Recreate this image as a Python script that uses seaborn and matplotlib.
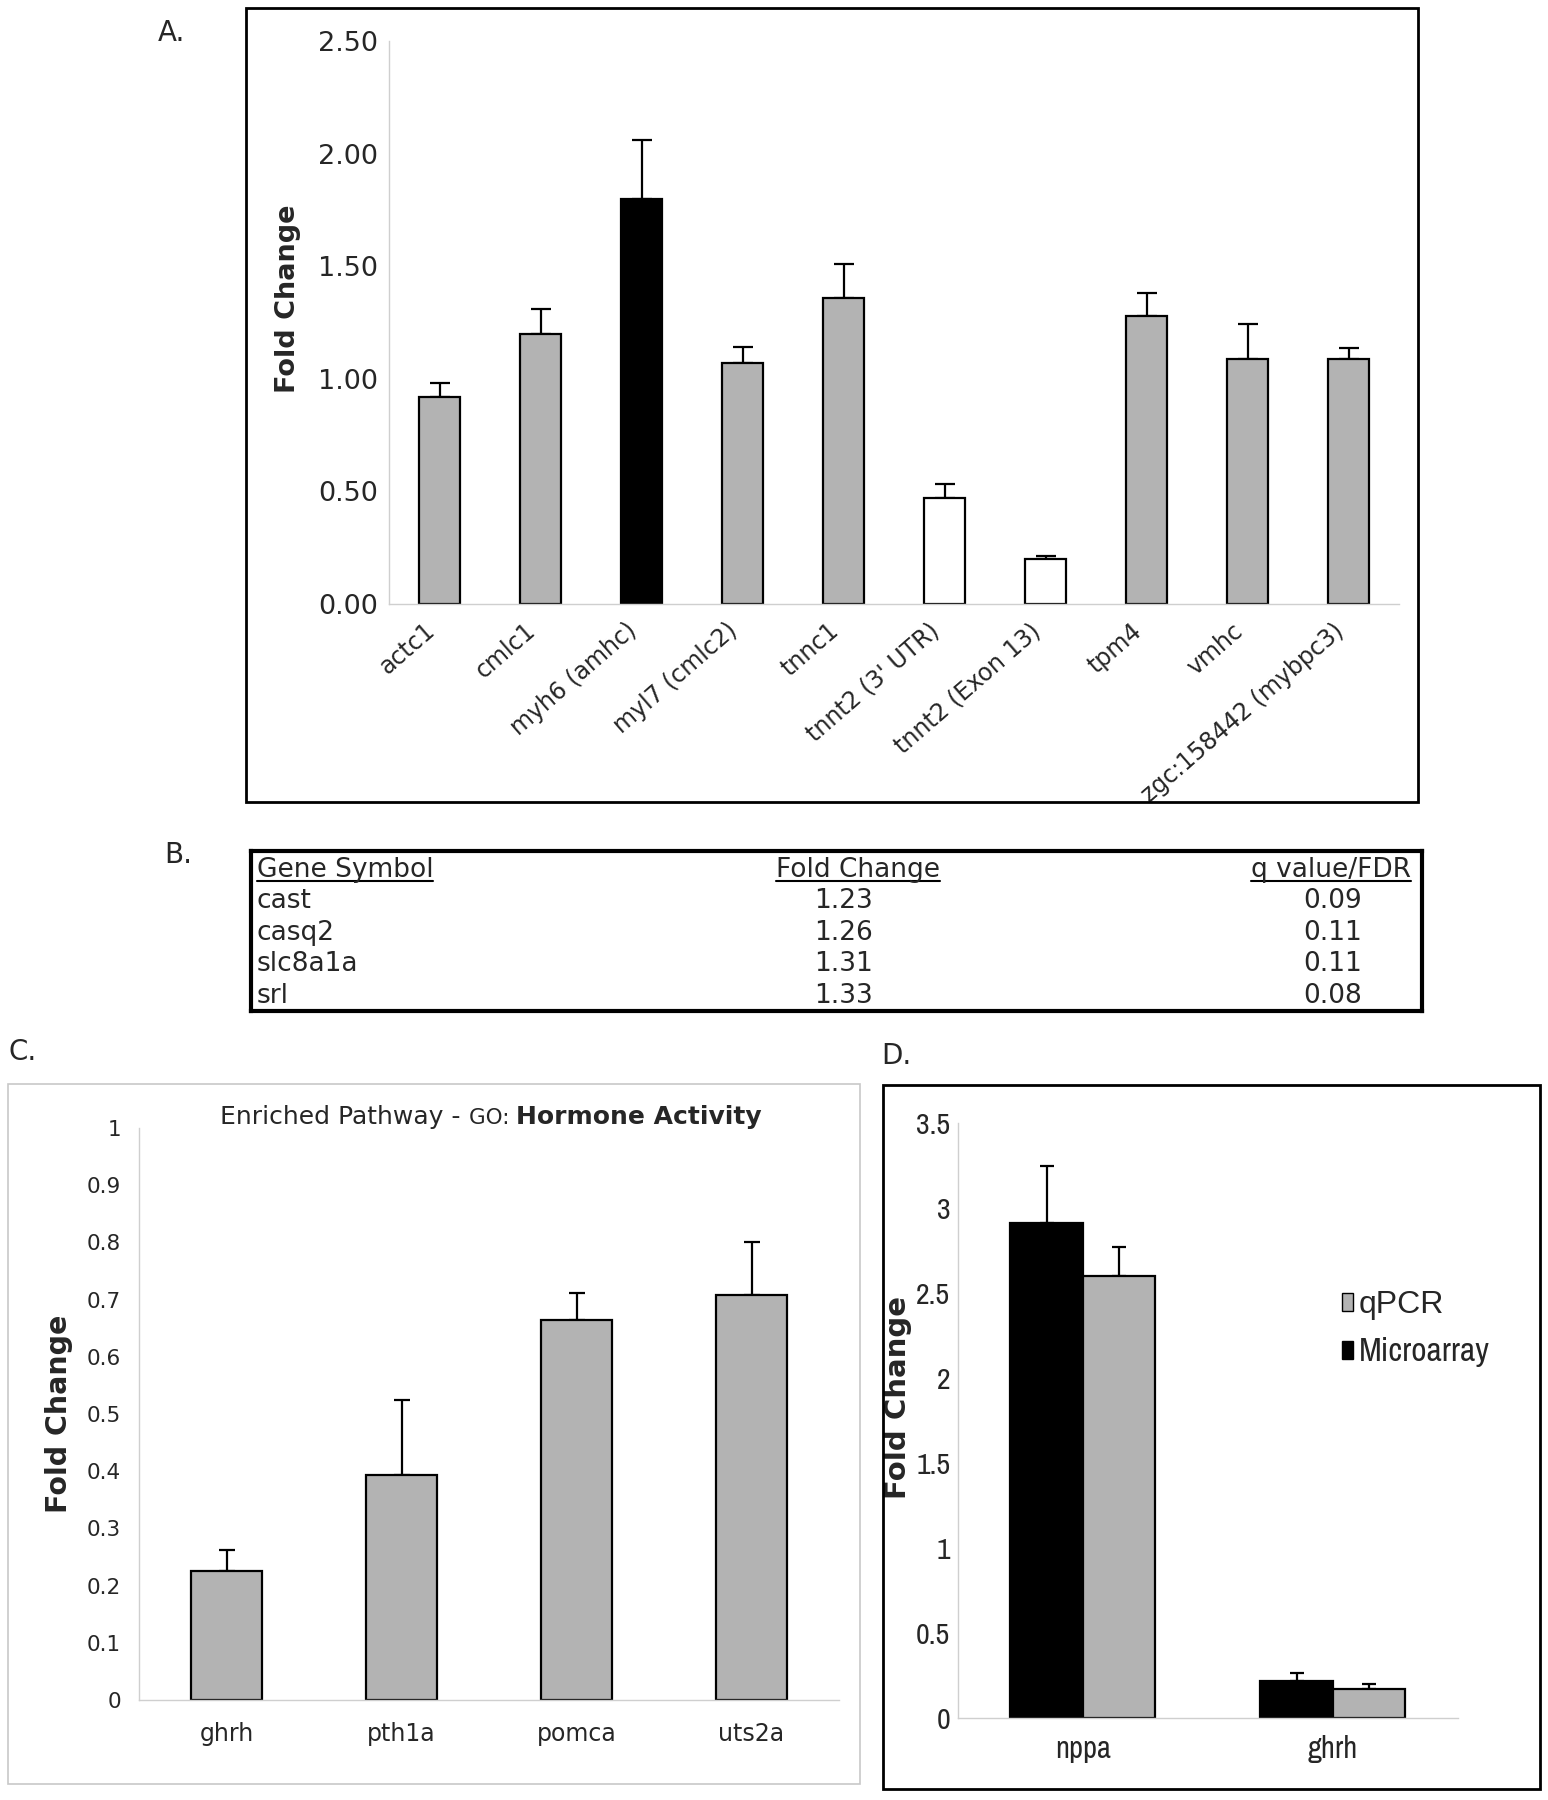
import numpy as np
import pandas as pd
import matplotlib
matplotlib.use("Agg")
import matplotlib.pyplot as plt
from matplotlib import font_manager
from matplotlib.patches import Rectangle
from matplotlib.transforms import ScaledTranslation
import seaborn as sns

sns.set_style("white")
plt.rcParams["font.family"] = ["DejaVu Sans"]

# a condensed face for panel D, if one is installed
NARROW = None
NARROW_STRETCH = "normal"
for f in font_manager.fontManager.ttflist:
    if "Narrow" in f.name or "Condensed" in f.name:
        NARROW = f.name
        break
if NARROW is None:
    for f in font_manager.fontManager.ttflist:
        if f.stretch in ("condensed", "semi-condensed", 75, 87.5) and "Mono" not in f.name:
            NARROW = f.name
            NARROW_STRETCH = "condensed"
            break
if NARROW is None:
    NARROW = "Liberation Sans"

# ---- data ----
genes_a = ["actc1", "cmlc1", "myh6 (amhc)", "myl7 (cmlc2)", "tnnc1", "tnnt2 (3' UTR)",
           "tnnt2 (Exon 13)", "tpm4", "vmhc", "zgc:158442 (mybpc3)"]
fold_a = [0.92, 1.20, 1.80, 1.07, 1.36, 0.47, 0.20, 1.28, 1.09, 1.09]
err_a = [0.06, 0.11, 0.26, 0.07, 0.15, 0.065, 0.015, 0.10, 0.155, 0.045]
colors_a = ["#b3b3b3", "#b3b3b3", "black", "#b3b3b3", "#b3b3b3", "white", "white",
            "#b3b3b3", "#b3b3b3", "#b3b3b3"]
yticks_a = [0.0, 0.5, 1.0, 1.5, 2.0, 2.5]

table_header = ["Gene Symbol", "Fold Change", "q value/FDR"]
table_genes = ["cast", "casq2", "slc8a1a", "srl"]
table_fold = ["1.23", "1.26", "1.31", "1.33"]
table_q = ["0.09", "0.11", "0.11", "0.08"]

genes_c = ["ghrh", "pth1a", "pomca", "uts2a"]
fold_c = [0.226, 0.394, 0.665, 0.708]
err_c = [0.037, 0.131, 0.047, 0.092]
yticks_c = [0.0, 0.1, 0.2, 0.3, 0.4, 0.5, 0.6, 0.7, 0.8, 0.9, 1.0]

genes_d = ["nppa", "ghrh"]
methods_d = ["Microarray", "qPCR"]
micro_d = [2.91, 0.22]
micro_err = [0.34, 0.045]
qpcr_d = [2.60, 0.17]
qpcr_err = [0.17, 0.03]
yticks_d = [0.0, 0.5, 1.0, 1.5, 2.0, 2.5, 3.0, 3.5]

GRAY = "#b3b3b3"
AXC = "#cfcfcf"
W, H = 1548, 1800

fig = plt.figure(figsize=(W / 100, H / 100), dpi=100)


def fax(x0, y0, x1, y1):
    return [x0 / W, 1 - y1 / H, (x1 - x0) / W, (y1 - y0) / H]


def frame(x0, y0, x1, y1, color="black", lw=2.0):
    fig.add_artist(Rectangle((x0 / W, 1 - y1 / H), (x1 - x0) / W, (y1 - y0) / H,
                             transform=fig.transFigure, fill=False,
                             edgecolor=color, linewidth=lw))


def style_axes(ax, n, ysize, yfont, ypad, xsize, xfont, xpad, stretch="normal"):
    sns.despine(ax=ax)
    for s in ["left", "bottom"]:
        ax.spines[s].set_color(AXC)
        ax.spines[s].set_linewidth(1.0)
    ax.set_xlim(-0.5, n - 0.5)
    ax.set_xticks(np.arange(-0.5, n, 1.0), minor=True)
    ax.tick_params(axis="x", which="major", length=0, pad=xpad)
    ax.tick_params(axis="x", which="minor", length=5, width=1, color=AXC)
    ax.tick_params(axis="y", length=4, width=1, color=AXC, pad=ypad)
    for t in ax.get_yticklabels():
        t.set_fontsize(ysize)
        t.set_family(yfont)
        t.set_fontstretch(stretch)
    for t in ax.get_xticklabels():
        t.set_fontsize(xsize)
        t.set_family(xfont)
        t.set_fontstretch(stretch)
    ax.set_xlabel("")


def add_errors(ax, bars, values, errs, cap):
    xs = [b.get_x() + b.get_width() / 2 for b in bars]
    ax.errorbar(xs, values, yerr=[np.zeros(len(errs)), errs], fmt="none",
                ecolor="black", elinewidth=1.6, capsize=cap, capthick=1.6, zorder=1)


# ---- panel A ----
frame(246, 8, 1418, 802)
fig.text(158 / W, 1 - 33 / H, "A.", fontsize=20, va="center", ha="left")
axA = fig.add_axes(fax(389, 41, 1399, 604))
dfA = pd.DataFrame({"gene": genes_a, "fold": fold_a, "err": err_a})
sns.barplot(data=dfA, x="gene", y="fold", hue="gene", palette=colors_a, legend=False,
            width=0.415, saturation=1, edgecolor="black", linewidth=1.6,
            errorbar=None, ax=axA, zorder=2)
add_errors(axA, axA.patches, dfA["fold"], dfA["err"], 7)
axA.set_ylim(0, 2.5)
axA.set_yticks(yticks_a)
axA.set_yticklabels([f"{v:.2f}" for v in yticks_a])
axA.set_xticks(range(len(genes_a)))
axA.set_xticklabels(genes_a, rotation=41, ha="right", va="center", rotation_mode="anchor")
style_axes(axA, len(genes_a), 19.5, "DejaVu Sans", 4, 17, "DejaVu Sans", 17)
shift = ScaledTranslation(-8 / 100, 0, fig.dpi_scale_trans)
for t in axA.get_xticklabels():
    t.set_transform(t.get_transform() + shift)
axA.set_ylabel("Fold Change", fontsize=19.5, fontweight="bold")
axA.yaxis.set_label_coords(-0.087, 0.543)

# ---- panel B (table) ----
fig.text(164 / W, 1 - 855 / H, "B.", fontsize=20, va="center", ha="left")
axB = fig.add_axes(fax(251, 851, 1422, 1011))
axB.set_xlim(0, 1)
axB.set_ylim(0, 1)
axB.set_autoscale_on(False)
axB.set_xticks([])
axB.set_yticks([])
for s in axB.spines.values():
    s.set_linewidth(3.0)
    s.set_color("black")
rows_y = [0.644, 0.444, 0.25, 0.05]
tk = dict(va="baseline", fontsize=19, transform=axB.transAxes)
hdr = [
    axB.text(0.005, 0.8375, table_header[0], ha="left", **tk),
    axB.text(0.518, 0.8375, table_header[1], ha="center", **tk),
    axB.text(0.991, 0.8375, table_header[2], ha="right", **tk),
]
for y, g, f, q in zip(rows_y, table_genes, table_fold, table_q):
    axB.text(0.005, y, g, ha="left", **tk)
    axB.text(0.506, y, f, ha="center", **tk)
    axB.text(0.924, y, q, ha="center", **tk)

# ---- panel C ----
frame(8, 1084, 860, 1784, color="#c8c8c8", lw=1.2)
fig.text(8 / W, 1 - 1052 / H, "C.", fontsize=20, va="center", ha="left")
axC = fig.add_axes(fax(139, 1128, 839, 1700))
dfC = pd.DataFrame({"gene": genes_c, "fold": fold_c, "err": err_c})
sns.barplot(data=dfC, x="gene", y="fold", color=GRAY, width=0.41, saturation=1,
            edgecolor="black", linewidth=1.6, errorbar=None, ax=axC, zorder=2)
add_errors(axC, axC.patches, dfC["fold"], dfC["err"], 6)
axC.set_ylim(0, 1.0)
axC.set_yticks(yticks_c)
axC.set_yticklabels([f"{v:g}" for v in yticks_c])
style_axes(axC, len(genes_c), 15.5, "DejaVu Sans", 9, 17, "DejaVu Sans", 16)
axC.set_ylabel("Fold Change", fontsize=20.5, fontweight="bold")
axC.yaxis.set_label_coords(-0.094, 0.5)

# ---- panel D ----
frame(883, 1085, 1540, 1789)
fig.text(881 / W, 1 - 1056 / H, "D.", fontsize=20, va="center", ha="left")
axD = fig.add_axes(fax(958, 1123, 1458, 1718))
dfD = pd.DataFrame({
    "gene": genes_d * 2,
    "method": [methods_d[0]] * 2 + [methods_d[1]] * 2,
    "fold": micro_d + qpcr_d,
    "err": micro_err + qpcr_err,
})
sns.barplot(data=dfD, x="gene", y="fold", hue="method", hue_order=methods_d,
            palette={"Microarray": "black", "qPCR": GRAY}, width=0.58, gap=0,
            saturation=1, edgecolor="black", linewidth=1.6, errorbar=None,
            ax=axD, zorder=2)
for cont, m in zip(axD.containers, methods_d):
    sub = dfD[dfD["method"] == m]
    add_errors(axD, cont, sub["fold"], sub["err"], 5)
axD.set_ylim(0, 3.5)
axD.set_yticks(yticks_d)
axD.set_yticklabels([f"{v:g}" for v in yticks_d])
is_narrow = NARROW_STRETCH == "condensed" or "Narrow" in NARROW or "Condensed" in NARROW
dsize = 21.5 if is_narrow else 17
style_axes(axD, len(genes_d), dsize, NARROW, 1.5, dsize + 0.5, NARROW, 12, NARROW_STRETCH)
axD.set_ylabel("Fold Change", fontsize=21, fontweight="bold")
axD.yaxis.set_label_coords(-0.092, 0.538)
handles, labels = axD.get_legend_handles_labels()
for h in handles:
    h.set_linewidth(1.0)
leg = axD.legend(handles[::-1], labels[::-1], loc="center left",
                 bbox_to_anchor=(0.768, 0.655), frameon=False, borderpad=0,
                 borderaxespad=0, handlelength=0.35, handleheight=0.5,
                 handletextpad=0.2, labelspacing=0.55,
                 prop={"family": "Liberation Sans", "size": 22})
leg_texts = leg.get_texts()
leg_texts[0].set_fontsize(23)
if is_narrow:
    leg_texts[1].set_family(NARROW)
    leg_texts[1].set_fontstretch(NARROW_STRETCH)
    leg_texts[1].set_fontsize(24)
else:
    leg_texts[1].set_fontsize(19)

# title of panel C with a bold part, placed piece by piece
fig.canvas.draw()
renderer = fig.canvas.get_renderer()
ty = 1.0 + 4 / 572
t1 = axC.text(0.116, ty, "Enriched Pathway - ", fontsize=18, ha="left", va="baseline",
              transform=axC.transAxes)
fig.canvas.draw()
x2 = axC.transAxes.inverted().transform((t1.get_window_extent(renderer).x1, 0))[0]
t2 = axC.text(x2, ty, "GO: ", fontsize=15.5, ha="left", va="baseline",
              transform=axC.transAxes)
fig.canvas.draw()
x3 = axC.transAxes.inverted().transform((t2.get_window_extent(renderer).x1, 0))[0]
axC.text(x3, ty, "Hormone Activity", fontsize=18, fontweight="bold", ha="left",
         va="baseline", transform=axC.transAxes)

# underline table headers
for t in hdr:
    bb = t.get_window_extent(renderer)
    inv = axB.transAxes.inverted()
    (xa, _), (xb, _) = inv.transform([(bb.x0, 0), (bb.x1, 0)])
    axB.plot([xa, xb], [0.8125, 0.8125], color="black", lw=1.5,
             transform=axB.transAxes, clip_on=False)

fig.savefig("out.png", dpi=100)
